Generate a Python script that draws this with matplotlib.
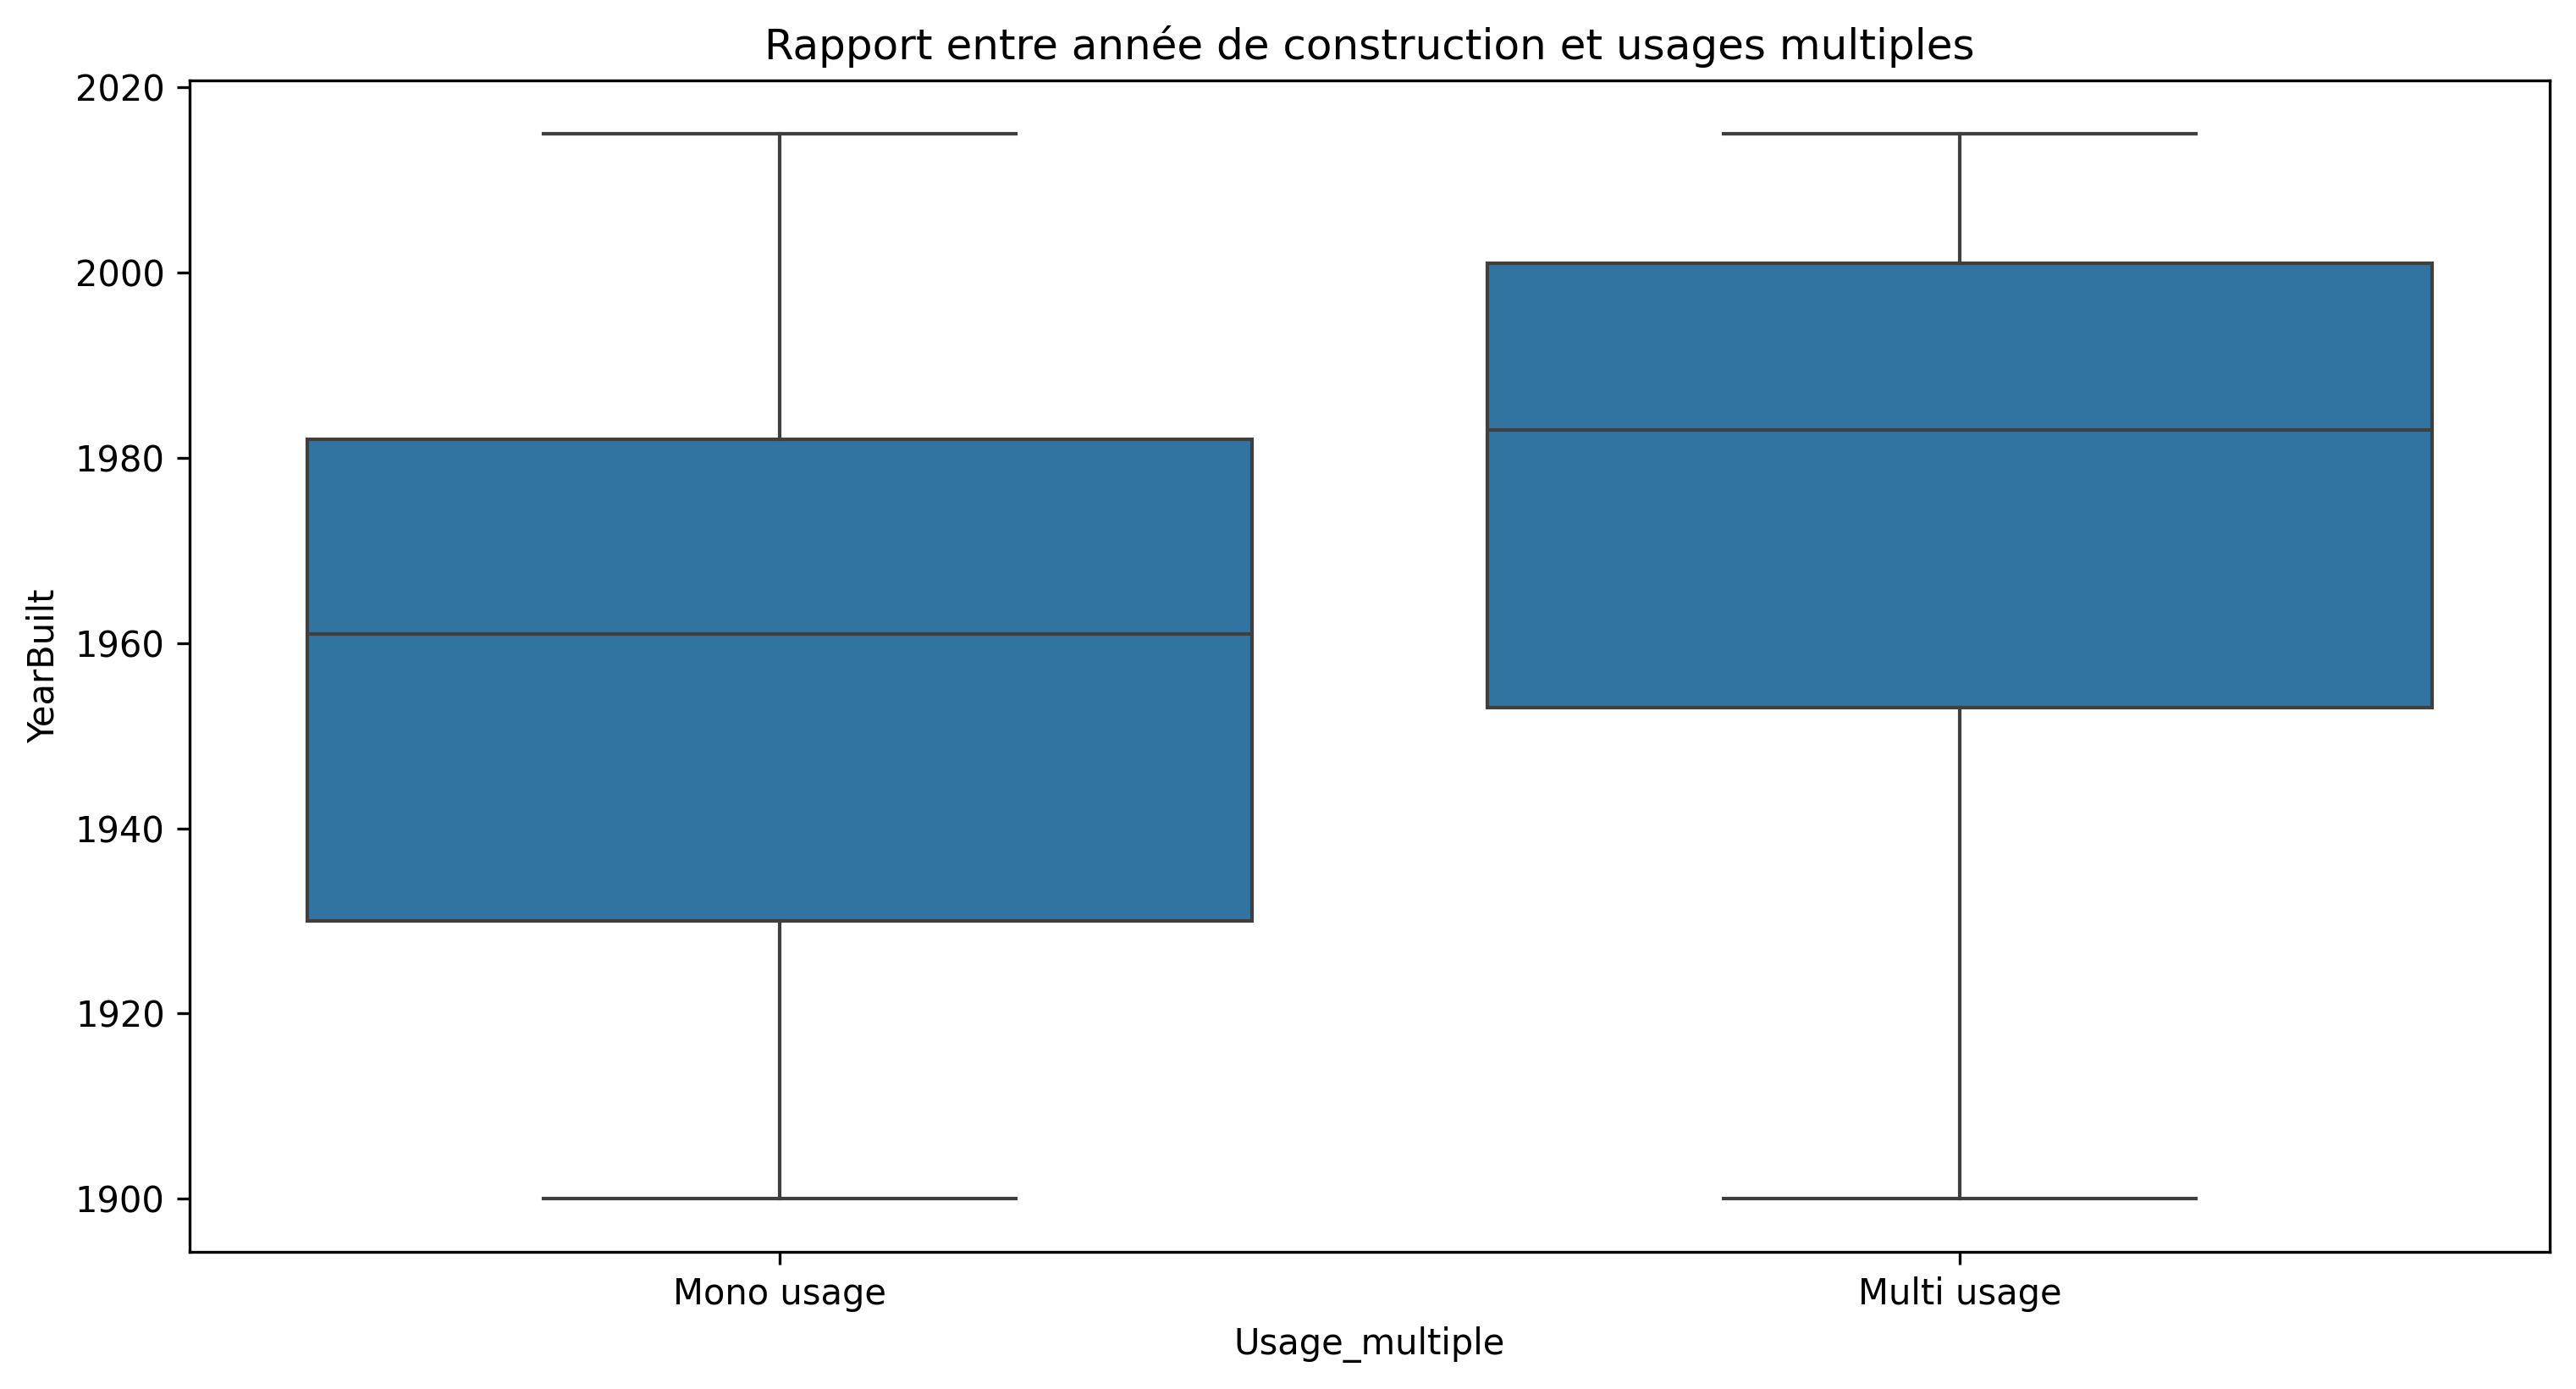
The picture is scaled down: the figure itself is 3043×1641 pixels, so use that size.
import matplotlib
matplotlib.use("Agg")
import matplotlib.pyplot as plt

categories = ["Mono usage", "Multi usage"]
whislo = [1900, 1900]
q1 = [1930, 1953]
med = [1961, 1983]
q3 = [1982, 2001]
whishi = [2015, 2015]

fig = plt.figure(figsize=(3043/300, 1641/300), dpi=300)
ax = fig.add_axes([0.0736, 0.0987, 0.9898-0.0736, 0.942-0.0987])

stats = []
for i, c in enumerate(categories):
    stats.append(dict(label=c, whislo=whislo[i], q1=q1[i], med=med[i], q3=q3[i], whishi=whishi[i], fliers=[]))

lc = "#3f3f3f"
ax.bxp(stats, positions=range(len(categories)), widths=0.8, patch_artist=True,
       showfliers=False,
       boxprops=dict(facecolor="#3274a1", edgecolor=lc, linewidth=1.0),
       medianprops=dict(color=lc, linewidth=1.0),
       whiskerprops=dict(color=lc, linewidth=1.0),
       capprops=dict(color=lc, linewidth=1.0),
       capwidths=0.4)
ax.set_xlim(-0.5, 1.5)
ax.set_ylim(1894.25, 2020.75)
ax.set_xticks(range(len(categories)))
ax.set_xticklabels(categories)
ax.set_xlabel("Usage_multiple")
ax.set_ylabel("YearBuilt")
ax.set_title("Rapport entre année de construction et usages multiples")
fig.savefig("out.png", dpi=300)
